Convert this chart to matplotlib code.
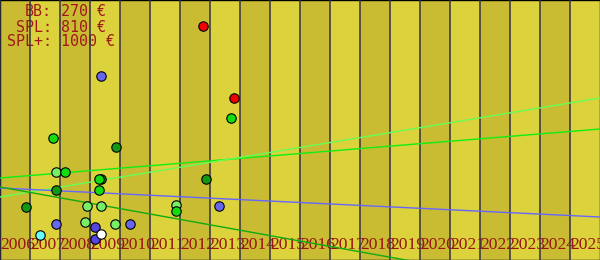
import matplotlib
matplotlib.use("Agg")
import matplotlib.pyplot as plt

# years shown as columns
years = list(range(2006, 2026))

# price labels in the top-left corner
price_names = ["BB:", "SPL:", "SPL+:"]
price_values = ["270 €", "810 €", "1000 €"]

# points per group (decimal year, value)
red_x = [2012.77, 2013.80]
red_y = [234, 162]
blue_x = [2009.37, 2007.87, 2010.33, 2013.30]
blue_y = [184, 36, 36, 54]
purple_x = [2009.17, 2009.17]
purple_y = [33, 21]
light_x = [2007.87, 2008.90, 2009.37, 2008.83, 2009.83, 2011.87]
light_y = [88, 54, 54, 38, 36, 55]
dark_x = [2009.87, 2009.37, 2007.87, 2006.87, 2012.87]
dark_y = [113, 81, 70, 53, 81]
bright_x = [2007.77, 2008.17, 2009.30, 2009.30, 2013.70, 2011.87]
bright_y = [122, 88, 81, 70, 142, 49]
white_x = [2009.37]
white_y = [26]
cyan_x = [2007.33]
cyan_y = [25]

# trend lines, value at 2006 and at 2026
trend_x = [2006, 2026]
trend_bright = [82, 131]
trend_light = [63, 162]
trend_blue = [72, 43]
trend_dark = [73, -35]

fig = plt.figure(figsize=(6, 2.6), dpi=100)
ax = fig.add_axes([0, 0, 1, 1])
ax.set_xlim(2006, 2026)
ax.set_ylim(0, 260)
ax.set_facecolor("#dcd23c")

# alternating column bands and column lines
for i, yr in enumerate(years):
    if i % 2 == 0:
        ax.axvspan(yr, yr + 1, color="#c9bc33", lw=0, zorder=0)
    ax.axvline(yr, color="#333344", lw=1.1, zorder=3)
    ax.text(yr + 0.01, 15, str(yr), ha="left", va="center",
            family="Liberation Serif", fontsize=12.6, color="#9a1515", zorder=2)

# trend lines
ax.plot(trend_x, trend_bright, color="#11ee11", lw=1, zorder=4)
ax.plot(trend_x, trend_light, color="#66ff55", lw=1, zorder=4)
ax.plot(trend_x, trend_blue, color="#6666ff", lw=1, zorder=4)
ax.plot(trend_x, trend_dark, color="#11aa11", lw=1, zorder=4)

# points
groups = [
    (dark_x, dark_y, "#119911"),
    (light_x, light_y, "#77ee66"),
    (bright_x, bright_y, "#11dd11"),
    (blue_x, blue_y, "#6666ee"),
    (purple_x, purple_y, "#5544dd"),
    (red_x, red_y, "#ee0000"),
    (white_x, white_y, "#ffffff"),
    (cyan_x, cyan_y, "#66ffff"),
]
for gx, gy, c in groups:
    ax.scatter(gx, gy, s=46, color=c, edgecolors="black", linewidths=0.8, zorder=5)

# price text, aligned on the colon
for k, (name, val) in enumerate(zip(price_names, price_values)):
    ty = 248 - k * 15
    ax.text(2006 + 52 / 30, ty, name, ha="right", va="center",
            family="DejaVu Sans Mono", fontsize=10.8, color="#a01818", zorder=2)
    ax.text(2006 + 52 / 30, ty, " " + val, ha="left", va="center",
            family="DejaVu Sans Mono", fontsize=10.8, color="#a01818", zorder=2)

ax.set_xticks([])
ax.set_yticks([])
for s in ax.spines.values():
    s.set_color("black")
    s.set_linewidth(1)

fig.savefig("out.png", dpi=100)
